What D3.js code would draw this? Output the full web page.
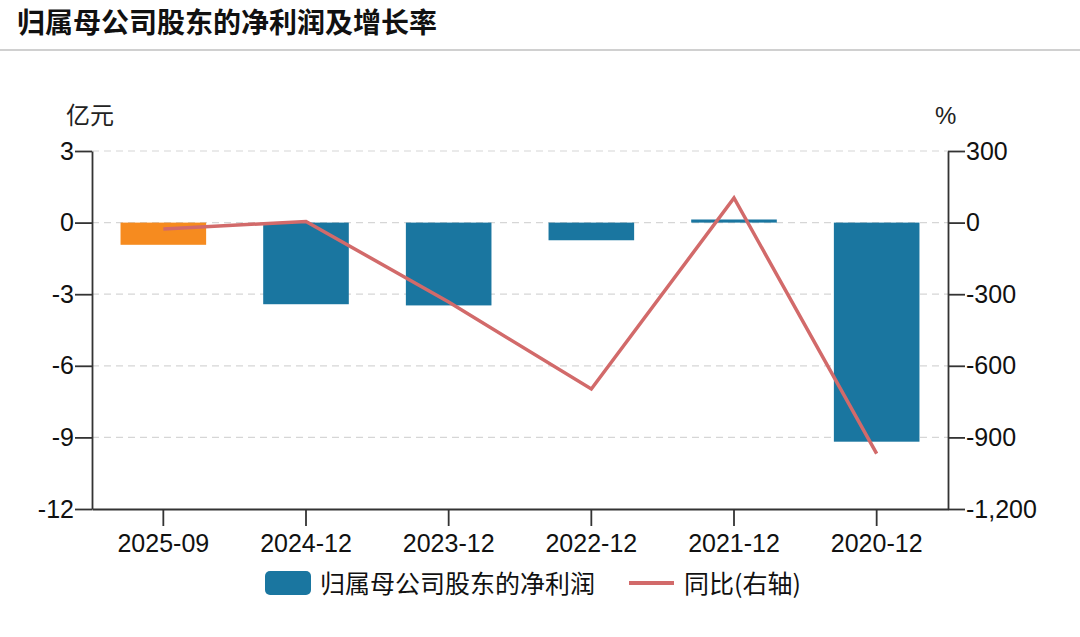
<!DOCTYPE html>
<html>
<head>
<meta charset="utf-8">
<script src="https://cdn.jsdelivr.net/npm/d3@7"></script>
<style>
  body { margin: 0; background: #fff; font-family: "Liberation Sans", "Noto Sans CJK SC", sans-serif; }
  .axis text { font-size: 25px; fill: #111; font-family: "Liberation Sans", "Noto Sans CJK SC", sans-serif; }
  .axis path, .axis line { stroke: #333; stroke-width: 1.8; }
  .grid line { stroke: #d6d6d6; stroke-dasharray: 7,5; stroke-width: 1.2; }
</style>
</head>
<body>
<script>
// data
const periods = ["2025-09", "2024-12", "2023-12", "2022-12", "2021-12", "2020-12"];
const netProfit = [-0.93, -3.42, -3.47, -0.74, 0.13, -9.18]; // 亿元
const yoyRate = [-27, 5, -333, -697, 103, -968]; // %
const leftTicks = [3, 0, -3, -6, -9, -12];
const rightTicks = [300, 0, -300, -600, -900, -1200];

// dimensions
var width = 1080, height = 637;
var margin = {top: 151, right: 132, bottom: 128, left: 92};
var innerW = width - margin.left - margin.right;
var innerH = height - margin.top - margin.bottom;

// plain hyphen instead of d3's unicode minus
var fmt = function(f) { return function(d) { return d3.format(f)(d).replace("\u2212", "-"); }; };

var svg = d3.select("body").append("svg")
    .attr("width", width)
    .attr("height", height);

// title + separator
svg.append("text")
    .attr("x", 17).attr("y", 33)
    .style("font-size", "28px").style("font-weight", "bold")
    .style("font-family", "'Noto Sans CJK SC', sans-serif")
    .attr("fill", "#111")
    .text("归属母公司股东的净利润及增长率");
svg.append("line")
    .attr("x1", 0).attr("x2", width).attr("y1", 50).attr("y2", 50)
    .attr("stroke", "#d0d0d0").attr("stroke-width", 2);

var g = svg.append("g").attr("transform", "translate(" + margin.left + "," + margin.top + ")");

// scales
var x = d3.scaleBand().domain(periods).range([0, innerW]).paddingInner(0.4).paddingOuter(0.2);
var y = d3.scaleLinear().domain([-12, 3]).range([innerH, 0]);
var y2 = d3.scaleLinear().domain([-1200, 300]).range([innerH, 0]);

// gridlines
g.append("g").attr("class", "grid")
    .selectAll("line").data(leftTicks.filter(d => d !== -12)).enter()
    .append("line")
    .attr("x1", 0).attr("x2", innerW)
    .attr("y1", d => y(d)).attr("y2", d => y(d));

// bars
g.selectAll(".bar").data(netProfit).enter()
    .append("rect")
    .attr("x", (d, i) => x(periods[i]))
    .attr("width", x.bandwidth())
    .attr("y", d => y(Math.max(0, d)))
    .attr("height", d => Math.abs(y(d) - y(0)))
    .attr("fill", (d, i) => i === 0 ? "#f68b1f" : "#1a76a0");

// axes
g.append("g").attr("class", "axis")
    .call(d3.axisLeft(y).tickValues(leftTicks).tickSize(17).tickSizeOuter(0).tickPadding(1).tickFormat(fmt("d")));
g.append("g").attr("class", "axis")
    .attr("transform", "translate(" + innerW + ",0)")
    .call(d3.axisRight(y2).tickValues(rightTicks).tickSize(17).tickSizeOuter(0).tickPadding(1).tickFormat(fmt(",")));
g.append("g").attr("class", "axis")
    .attr("transform", "translate(0," + innerH + ")")
    .call(d3.axisBottom(x).tickSize(17).tickSizeOuter(0).tickPadding(8));

// line
var line = d3.line()
    .x((d, i) => x(periods[i]) + x.bandwidth() / 2)
    .y(d => y2(d));
g.append("path")
    .datum(yoyRate)
    .attr("fill", "none")
    .attr("stroke", "#d26a6a")
    .attr("stroke-width", 3.5)
    .attr("d", line);

// unit labels
svg.append("text").attr("x", 66).attr("y", 124)
    .style("font-size", "24px").style("font-family", "'Noto Sans CJK SC', sans-serif")
    .attr("fill", "#222").text("亿元");
svg.append("text").attr("x", 935).attr("y", 124)
    .style("font-size", "24px").style("font-family", "'Liberation Sans', sans-serif")
    .attr("fill", "#222").text("%");

// legend
var lg = svg.append("g").attr("transform", "translate(265,583)");
lg.append("rect").attr("x", 0).attr("y", -12).attr("width", 46).attr("height", 24).attr("rx", 5).attr("fill", "#1a76a0");
lg.append("text").attr("x", 55).attr("y", 10)
    .style("font-size", "25px").style("font-family", "'Noto Sans CJK SC', sans-serif")
    .attr("fill", "#111").text("归属母公司股东的净利润");
lg.append("line").attr("x1", 364).attr("x2", 409).attr("y1", 0).attr("y2", 0)
    .attr("stroke", "#d26a6a").attr("stroke-width", 4);
lg.append("text").attr("x", 419).attr("y", 10)
    .style("font-size", "25px").style("font-family", "'Noto Sans CJK SC', sans-serif")
    .attr("fill", "#111").text("同比(右轴)");
</script>
</body>
</html>
